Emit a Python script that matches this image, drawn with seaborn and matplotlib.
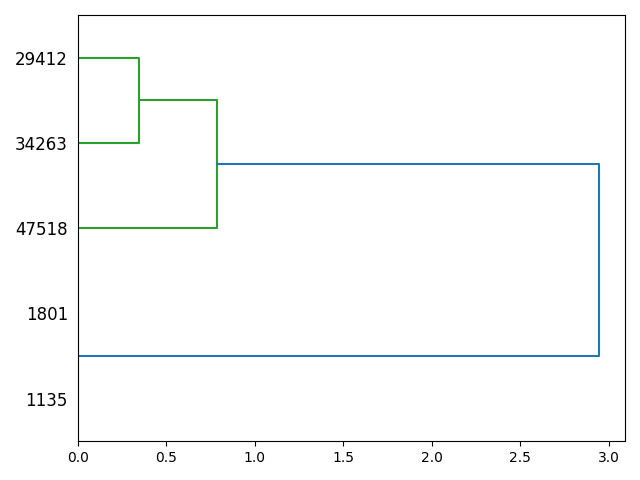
import numpy as np
import pandas as pd
import matplotlib
matplotlib.use('Agg')
import matplotlib.pyplot as plt
import seaborn as sns

# leaves in drawing order, bottom to top
leaf_labels = ['1135', '1801', '47518', '34263', '29412']

# merges: (child a, child b, distance); ids 0-4 are leaves, 5+ are new clusters
merge_a = [3, 0, 2, 6]
merge_b = [4, 1, 5, 7]
merge_dist = [0.345, 0.0, 0.786, 2.945]
merge_color = ['#2ca02c', '#ff7f0e', '#2ca02c', '#1f77b4']

# leaf positions like scipy: 5, 15, 25, ...
pos = {i: 5 + 10 * i for i in range(len(leaf_labels))}
height = {i: 0.0 for i in range(len(leaf_labels))}

fig, ax = plt.subplots(figsize=(6.4, 4.8), dpi=100)

n = len(leaf_labels)
for k, (a, b, d) in enumerate(zip(merge_a, merge_b, merge_dist)):
    new_id = n + k
    seg = pd.DataFrame({
        'x': [height[a], d, d, height[b]],
        'y': [pos[a], pos[a], pos[b], pos[b]],
    })
    sns.lineplot(data=seg, x='x', y='y', sort=False, estimator=None,
                 color=merge_color[k], linewidth=1.5, ax=ax)
    pos[new_id] = (pos[a] + pos[b]) / 2
    height[new_id] = d

ax.set_ylim(0, 10 * n)
ax.set_xlim(0, max(merge_dist) * 1.05)
ax.set_yticks([5 + 10 * i for i in range(n)])
ax.set_yticklabels(leaf_labels, fontsize=12)
# hide tick marks but keep their spacing
for line in ax.get_yticklines():
    line.set_visible(False)
ax.set_xlabel('')
ax.set_ylabel('')

plt.tight_layout()
plt.savefig('out.png')
